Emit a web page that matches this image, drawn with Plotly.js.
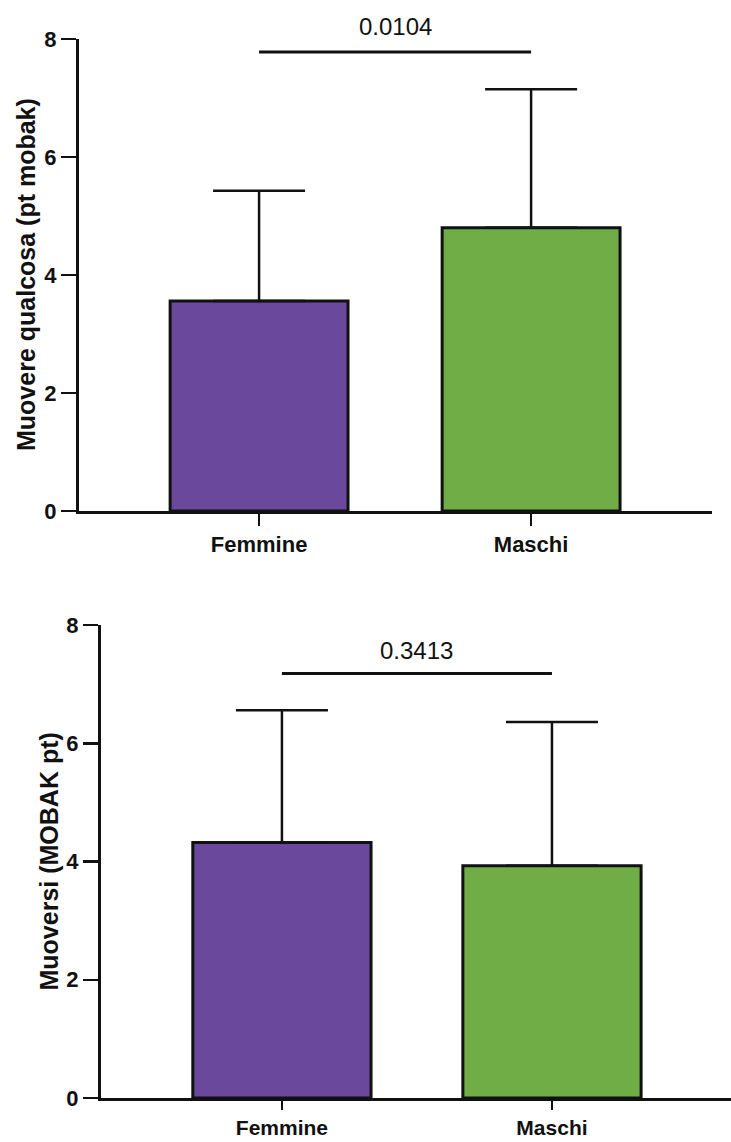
<!DOCTYPE html>
<html>
<head>
<meta charset="utf-8">
<script src="https://cdn.plot.ly/plotly-3.0.1.min.js"></script>
<style>html,body{margin:0;padding:0;background:#fff;}#chart{width:731px;height:1142px;}</style>
</head>
<body>
<div id="chart"></div>
<script>
// ---- data ----
const categories = ['Femmine', 'Maschi'];
const meanMuovereQualcosa = [3.56, 4.80];
const sdMuovereQualcosa = [1.87, 2.35];
const meanMuoversi = [4.32, 3.93];
const sdMuoversi = [2.24, 2.43];
const pValues = ['0.0104', '0.3413'];
const yTickVals = [0, 2, 4, 6, 8];
const titleTop = 'Muovere qualcosa (pt mobak)';
const titleBottom = 'Muoversi (MOBAK pt)';

// ---- styling ----
const FONT = 'Liberation Sans, Arial, sans-serif';
const barColors = ['#6a489b', '#70ad47'];
const W = 731, H = 1142;

function barTrace(means, sds, xa, ya, width) {
  return {
    type: 'bar', x: categories, y: means, xaxis: xa, yaxis: ya, width: width,
    marker: {color: barColors, line: {color: '#111', width: 3}},
    error_y: {type: 'data', symmetric: false, array: sds, arrayminus: sds.map(() => 0),
              color: '#111', thickness: 2.5, width: 46},
    showlegend: false, hoverinfo: 'x+y'
  };
}

const xCommon = {
  type: 'category', showgrid: false, zeroline: false, showline: true, linecolor: '#111', linewidth: 3,
  ticks: 'outside', ticklen: 12, tickwidth: 2.5, tickcolor: '#111',
  tickfont: {family: FONT, size: 22, color: '#111', weight: 700}, fixedrange: true
};
const yCommon = {
  range: [0, 8], tickvals: yTickVals, showgrid: false, zeroline: false, showline: true,
  linecolor: '#111', linewidth: 3, ticks: 'outside', ticklen: 15, tickwidth: 2.5, tickcolor: '#111',
  tickfont: {family: FONT, size: 22, color: '#111', weight: 700}, fixedrange: true
};

const topY = [1 - 511 / H, 1 - 39 / H];
const botY = [1 - 1098 / H, 1 - 625 / H];

const layout = {
  width: W, height: H, margin: {l: 0, r: 0, t: 0, b: 0},
  paper_bgcolor: '#fff', plot_bgcolor: '#fff', bargap: 0,
  xaxis: Object.assign({}, xCommon, {domain: [79 / W, 712 / W], range: [-0.662, 1.665], anchor: 'y'}),
  yaxis: Object.assign({}, yCommon, {domain: topY, anchor: 'x'}),
  xaxis2: Object.assign({}, xCommon, {domain: [101 / W, 1], range: [-0.67, 1.663], anchor: 'y2',
    ticklen: 9, tickfont: {family: FONT, size: 21, color: '#111', weight: 700}}),
  yaxis2: Object.assign({}, yCommon, {domain: botY, anchor: 'x2'}),
  shapes: [
    {type: 'line', xref: 'x', yref: 'y', x0: 0, x1: 1, y0: 7.78, y1: 7.78, line: {color: '#111', width: 3}},
    {type: 'line', xref: 'x2', yref: 'y2', x0: 0, x1: 1, y0: 7.18, y1: 7.18, line: {color: '#111', width: 3}}
  ],
  annotations: [
    {xref: 'x', yref: 'paper', x: 0.5, y: 1 - 27 / H, xanchor: 'center', yanchor: 'middle',
     text: pValues[0], showarrow: false, font: {family: FONT, size: 24, color: '#111'}},
    {xref: 'x2', yref: 'paper', x: 0.5, y: 1 - 650 / H, xanchor: 'center', yanchor: 'middle',
     text: pValues[1], showarrow: false, font: {family: FONT, size: 24, color: '#111'}},
    {xref: 'paper', yref: 'paper', x: 26 / W, y: (topY[0] + topY[1]) / 2, xanchor: 'center', yanchor: 'middle',
     text: titleTop, textangle: -90, showarrow: false, font: {family: FONT, size: 25, color: '#111', weight: 700}},
    {xref: 'paper', yref: 'paper', x: 48 / W, y: (botY[0] + botY[1]) / 2, xanchor: 'center', yanchor: 'middle',
     text: titleBottom, textangle: -90, showarrow: false, font: {family: FONT, size: 25, color: '#111', weight: 700}}
  ]
};

Plotly.newPlot('chart', [
  barTrace(meanMuovereQualcosa, sdMuovereQualcosa, 'x', 'y', 0.654),
  barTrace(meanMuoversi, sdMuoversi, 'x2', 'y2', 0.66)
], layout, {displayModeBar: false, staticPlot: true});
</script>
</body>
</html>
